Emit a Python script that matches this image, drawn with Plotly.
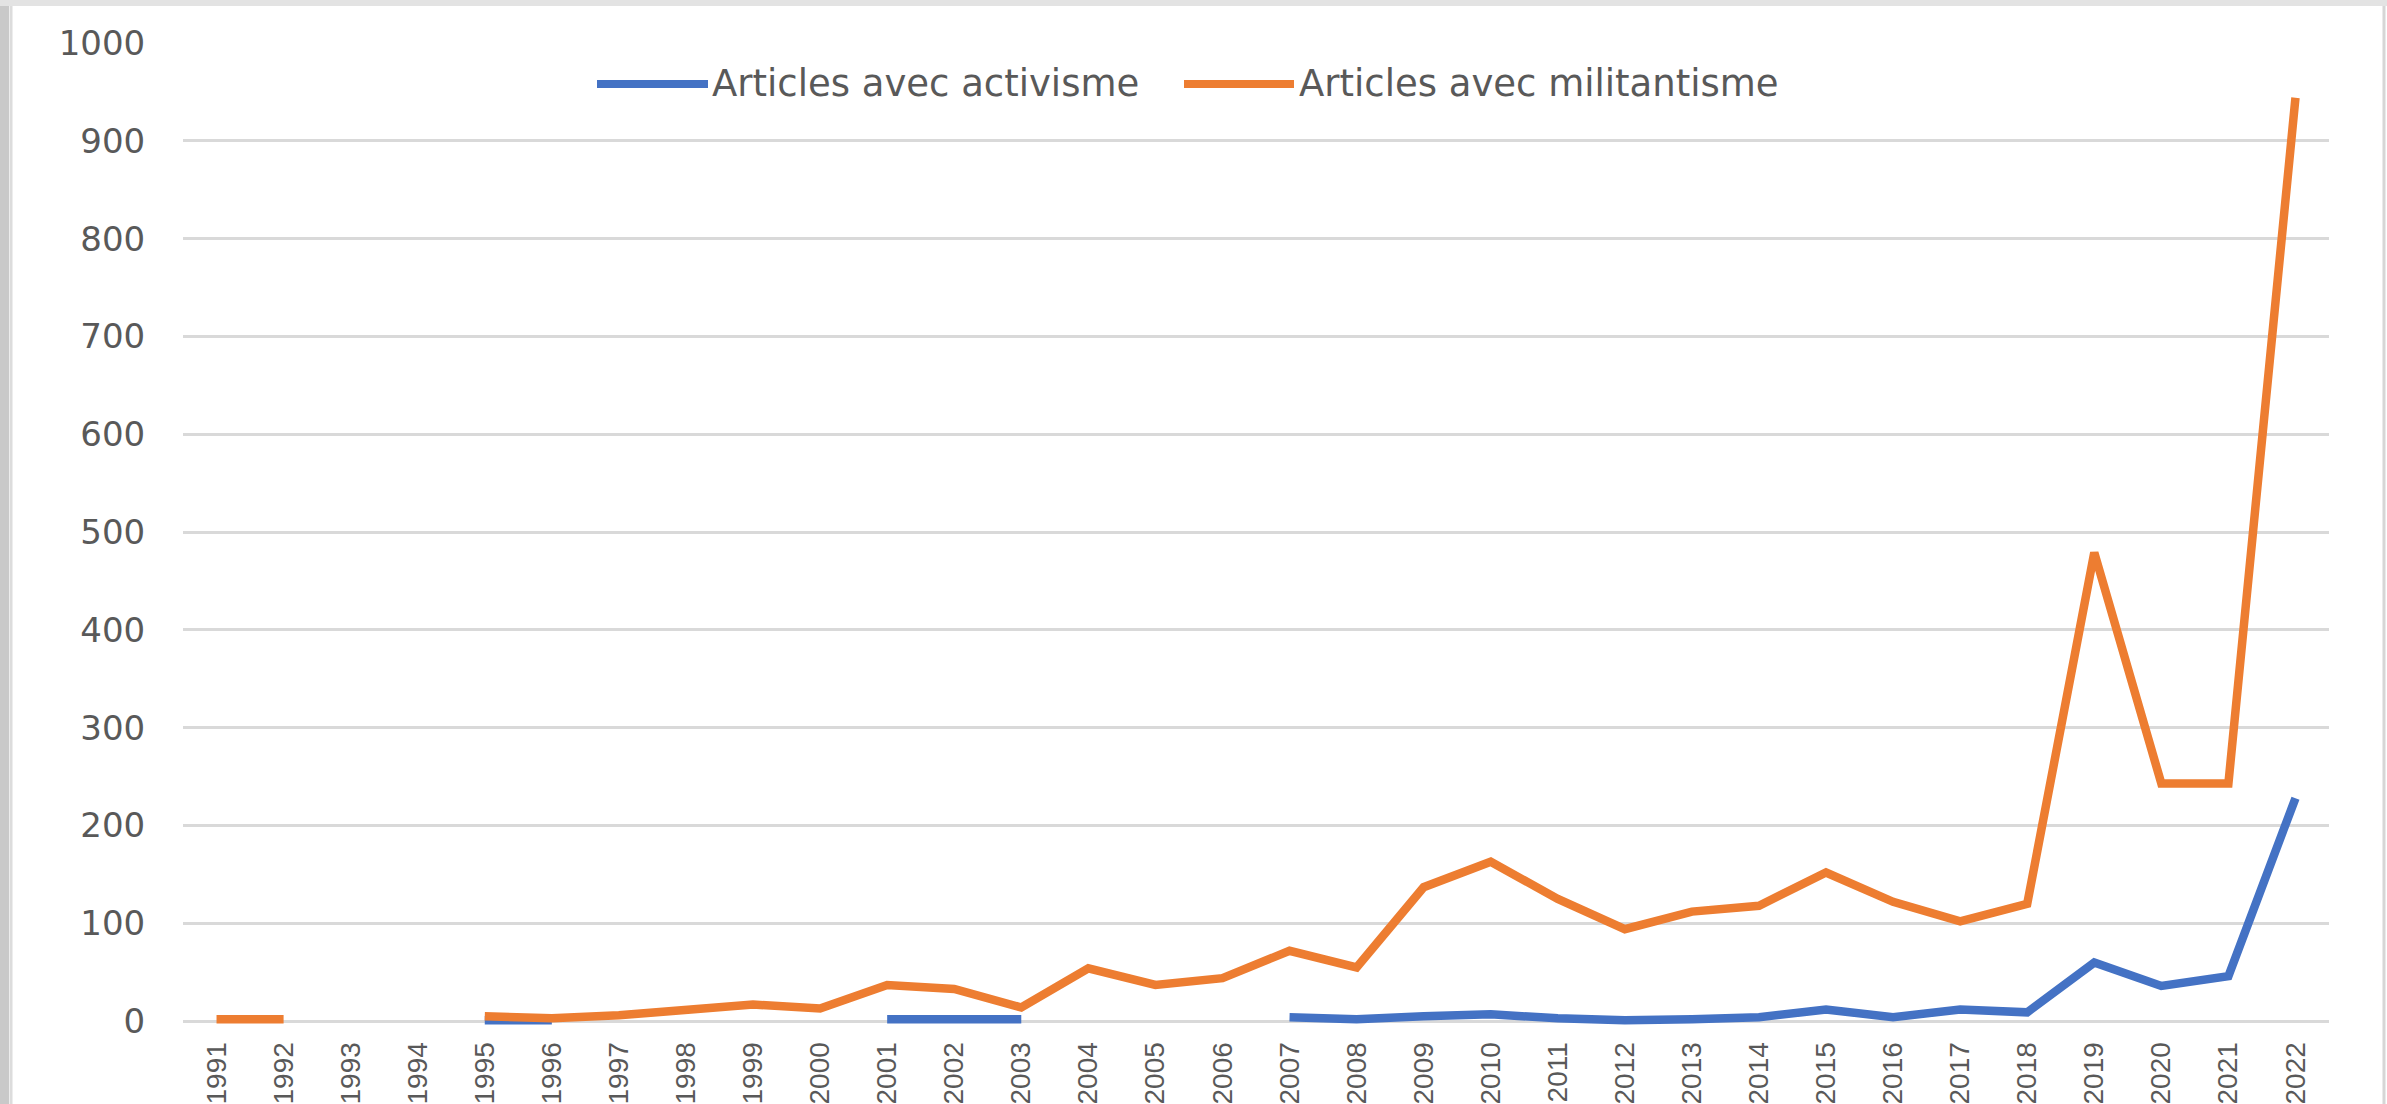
import plotly.graph_objects as go

# ---------------- data ----------------
years = [str(y) for y in range(1991, 2023)]
activisme = [None, None, None, None, 1, 1, None, None, None, None,
             2, 2, 2, None, None, None, 4, 2, 5, 7,
             3, 1, 2, 4, 12, 4, 12, 9, 60, 36, 46, 228]
militantisme = [2, 2, None, None, 5, 3, 6, 11, 17, 13,
                37, 33, 14, 54, 37, 44, 72, 55, 137, 163,
                125, 94, 112, 118, 152, 122, 102, 120, 479, 243, 243, 944]
series_names = ["Articles avec activisme", "Articles avec militantisme"]
series_colors = ["#4472C4", "#ED7D31"]
y_ticks = [0, 100, 200, 300, 400, 500, 600, 700, 800, 900, 1000]

# ---------------- layout geometry ----------------
W, H = 2387, 1104
ML, MR, MT, MB = 183, 58, 43, 75
YMIN, YMAX = -8, 1000
PW, PH = W - ML - MR, H - MT - MB

def px(x):
    return (x - ML) / PW

def py(y):
    return (H - MB - y) / PH

fig = go.Figure()
for name, vals, col in zip(series_names, [activisme, militantisme], series_colors):
    fig.add_trace(go.Scatter(
        x=years, y=vals, mode="lines", name=name,
        line=dict(color=col, width=8.5), connectgaps=False,
        showlegend=False, cliponaxis=False,
    ))

shapes = []
annotations = []
# custom legend (long line samples as in the original)
legend_items = [(597, 708, 710), (1184, 1294, 1297)]
for (x0, x1, xt), name, col in zip(legend_items, series_names, series_colors):
    shapes.append(dict(type="line", xref="paper", yref="paper",
                       x0=px(x0), x1=px(x1), y0=py(84), y1=py(84),
                       line=dict(color=col, width=8)))
    annotations.append(dict(text=name, xref="paper", yref="paper",
                            x=px(xt), y=py(84), xanchor="left", yanchor="middle",
                            showarrow=False,
                            font=dict(family="DejaVu Sans", size=37, color="#595959")))

# frame around the chart
shapes.append(dict(type="rect", xref="paper", yref="paper",
                   x0=px(0), x1=px(9), y0=py(H), y1=py(0),
                   fillcolor="#C9C9C9", line=dict(width=0), layer="below"))
shapes.append(dict(type="rect", xref="paper", yref="paper",
                   x0=px(0), x1=px(W), y0=py(6), y1=py(0),
                   fillcolor="#E3E3E3", line=dict(width=0), layer="below"))
shapes.append(dict(type="line", xref="paper", yref="paper",
                   x0=px(11), x1=px(11), y0=py(H), y1=py(6),
                   line=dict(color="#DCDCDC", width=3), layer="below"))
shapes.append(dict(type="line", xref="paper", yref="paper",
                   x0=px(2384), x1=px(2384), y0=py(H), y1=py(6),
                   line=dict(color="#D6D6D6", width=3), layer="below"))

fig.update_layout(
    width=W, height=H,
    margin=dict(l=ML, r=MR, t=MT, b=MB, autoexpand=False),
    paper_bgcolor="white", plot_bgcolor="white",
    shapes=shapes, annotations=annotations,
    showlegend=False,
)
fig.update_xaxes(
    type="category", range=[-0.5, len(years) - 0.5],
    tickangle=-90, showgrid=False, zeroline=False, showline=False,
    ticks="outside", ticklen=1, tickcolor="rgba(0,0,0,0)",
    tickfont=dict(family="Liberation Sans", size=28, color="#595959"),
    automargin=False,
)
fig.update_yaxes(
    range=[YMIN, YMAX], tickvals=y_ticks, ticktext=[str(v) for v in y_ticks],
    showgrid=True, gridcolor="#D9D9D9", gridwidth=2.5,
    zeroline=False, showline=False,
    ticks="outside", ticklen=30, tickcolor="rgba(0,0,0,0)",
    tickfont=dict(family="DejaVu Sans", size=34, color="#595959"),
    automargin=False,
)

fig.write_html(
    "out.html",
    config={"displayModeBar": False},
    post_script="document.body.style.margin='0';document.body.style.overflow='hidden';",
)
